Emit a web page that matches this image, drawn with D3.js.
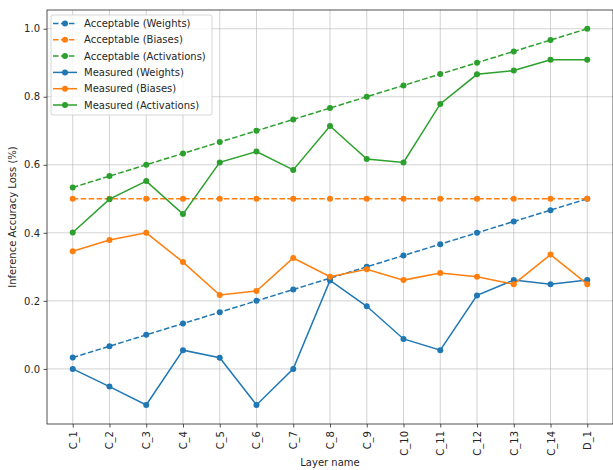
<!DOCTYPE html>
<html>
<head>
<meta charset="utf-8">
<script src="https://cdn.jsdelivr.net/npm/d3@7"></script>
<style>
  body { margin: 0; background: #fff; }
  text { font-family: "DejaVu Sans", sans-serif; fill: #262626; }
</style>
</head>
<body>
<div id="chart"></div>
<script>
const layers = ["C_1","C_2","C_3","C_4","C_5","C_6","C_7","C_8","C_9","C_10","C_11","C_12","C_13","C_14","D_1"]
const acceptableWeights = [0.0333, 0.0667, 0.1, 0.1333, 0.1667, 0.2, 0.2333, 0.2667, 0.3, 0.3333, 0.3667, 0.4, 0.4333, 0.4667, 0.5]
const acceptableBiases = [0.5, 0.5, 0.5, 0.5, 0.5, 0.5, 0.5, 0.5, 0.5, 0.5, 0.5, 0.5, 0.5, 0.5, 0.5]
const acceptableActivations = [0.5333, 0.5667, 0.6, 0.6333, 0.6667, 0.7, 0.7333, 0.7667, 0.8, 0.8333, 0.8667, 0.9, 0.9333, 0.9667, 1.0]
const measuredWeights = [0.0, -0.052, -0.106, 0.055, 0.033, -0.106, 0.0, 0.26, 0.184, 0.088, 0.055, 0.216, 0.261, 0.249, 0.261]
const measuredBiases = [0.346, 0.379, 0.4, 0.314, 0.217, 0.229, 0.326, 0.271, 0.293, 0.261, 0.282, 0.271, 0.249, 0.336, 0.249]
const measuredActivations = [0.401, 0.499, 0.552, 0.455, 0.607, 0.639, 0.585, 0.714, 0.617, 0.607, 0.779, 0.866, 0.877, 0.909, 0.909]
const yTicks = [0.0, 0.2, 0.4, 0.6, 0.8, 1.0]

const series = [
  { name: "Acceptable (Weights)", values: acceptableWeights, color: "#1f77b4", dashed: true },
  { name: "Acceptable (Biases)", values: acceptableBiases, color: "#ff7f0e", dashed: true },
  { name: "Acceptable (Activations)", values: acceptableActivations, color: "#2ca02c", dashed: true },
  { name: "Measured (Weights)", values: measuredWeights, color: "#1f77b4", dashed: false },
  { name: "Measured (Biases)", values: measuredBiases, color: "#ff7f0e", dashed: false },
  { name: "Measured (Activations)", values: measuredActivations, color: "#2ca02c", dashed: false }
]

const totalWidth = 613, totalHeight = 470
const margin = { top: 10, left: 47, bottom: 46, right: 0 }
const width = totalWidth - margin.left - margin.right
const height = totalHeight - margin.top - margin.bottom

const svg = d3.select("div#chart").append("svg").attr("width", totalWidth).attr("height", totalHeight)
const g = svg.append("g").attr("transform", `translate(${margin.left}, ${margin.top})`)

const x = d3.scalePoint().domain(layers).range([0, width]).padding(0.7)
const y = d3.scaleLinear().domain([-0.162, 1.055]).range([height, 0])

// grid
g.append("g").selectAll("line").data(layers).join("line")
  .attr("x1", d => x(d)).attr("x2", d => x(d)).attr("y1", 0).attr("y2", height)
  .attr("stroke", "#b0b0b0").attr("stroke-opacity", 0.7).attr("stroke-width", 0.8)
g.append("g").selectAll("line").data(yTicks).join("line")
  .attr("x1", 0).attr("x2", width).attr("y1", d => y(d)).attr("y2", d => y(d))
  .attr("stroke", "#b0b0b0").attr("stroke-opacity", 0.7).attr("stroke-width", 0.8)

// axes
const xAxisGroup = g.append("g").attr("transform", `translate(0, ${height})`)
  .call(d3.axisBottom(x).tickSize(3.5).tickPadding(3.5).tickSizeOuter(0))
xAxisGroup.selectAll("text")
  .attr("transform", "rotate(-90)")
  .attr("x", -7).attr("y", 0).attr("dy", "0.35em")
  .style("text-anchor", "end")
const yAxisGroup = g.append("g")
  .call(d3.axisLeft(y).tickValues(yTicks).tickFormat(d3.format(".1f")).tickSize(3.5).tickPadding(3.5).tickSizeOuter(0))
svg.selectAll(".tick text").attr("font-size", 10).attr("font-family", "DejaVu Sans").attr("fill", "#262626")
svg.selectAll(".tick line").attr("stroke", "#262626").attr("stroke-width", 0.8)
svg.selectAll(".domain").remove()

// spines
g.append("rect").attr("x", 0).attr("y", 0).attr("width", width).attr("height", height)
  .attr("fill", "none").attr("stroke", "#262626").attr("stroke-width", 0.8)

// lines
const line = d3.line().x((d, i) => x(layers[i])).y(d => y(d))
series.forEach(s => {
  g.append("path").datum(s.values)
    .attr("d", line).attr("fill", "none")
    .attr("stroke", s.color).attr("stroke-width", 1.5)
    .attr("stroke-dasharray", s.dashed ? "5.55,2.4" : null)
  g.append("g").selectAll("circle").data(s.values).join("circle")
    .attr("cx", (d, i) => x(layers[i])).attr("cy", d => y(d)).attr("r", 3)
    .attr("fill", s.color)
})

// labels
svg.append("text").attr("x", margin.left + width / 2).attr("y", 466)
  .attr("text-anchor", "middle").attr("font-size", 10).text("Layer name")
svg.append("text").attr("transform", `translate(16, ${margin.top + height / 2}) rotate(-90)`)
  .attr("text-anchor", "middle").attr("font-size", 10).text("Inference Accuracy Loss (%)")

// legend
const legend = g.append("g").attr("transform", "translate(4, 5)")
legend.append("rect").attr("x", 0).attr("y", 0).attr("width", 161).attr("height", 100)
  .attr("rx", 2).attr("fill", "#fff").attr("fill-opacity", 0.8)
  .attr("stroke", "#cccccc").attr("stroke-width", 0.8)
series.forEach((s, i) => {
  const ly = 8.5 + i * 16.3
  legend.append("line").attr("x1", 2).attr("x2", 26).attr("y1", ly).attr("y2", ly)
    .attr("stroke", s.color).attr("stroke-width", 1.5)
    .attr("stroke-dasharray", s.dashed ? "5.55,2.4" : null)
  legend.append("circle").attr("cx", 14).attr("cy", ly).attr("r", 3).attr("fill", s.color)
  legend.append("text").attr("x", 33).attr("y", ly).attr("dy", "0.35em")
    .attr("font-size", 10).text(s.name)
})
</script>
</body>
</html>
